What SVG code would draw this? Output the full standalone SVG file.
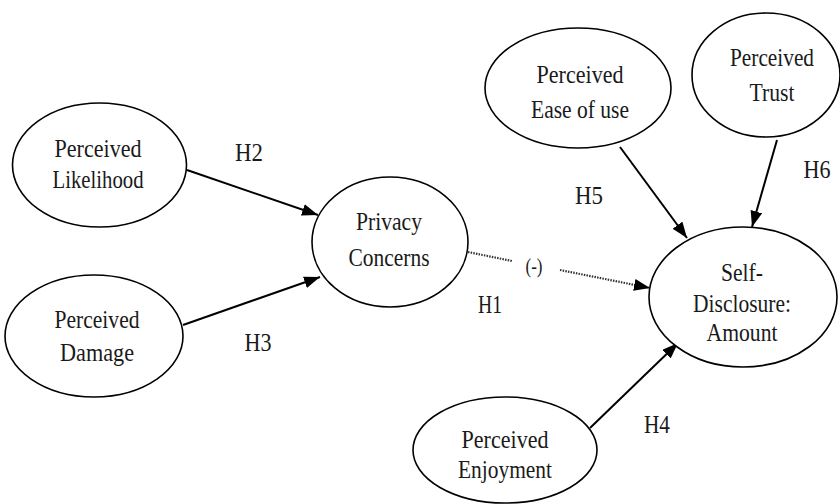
<svg xmlns="http://www.w3.org/2000/svg" width="840" height="504" viewBox="0 0 840 504">
<style>
.node ellipse{fill:#fff;stroke:#000;stroke-width:1.6}
.t{font-family:"Liberation Serif","Times New Roman","DejaVu Serif",serif;font-size:26px;fill:#1a1a1a;text-anchor:middle}
.lbl{font-family:"Liberation Serif","Times New Roman","DejaVu Serif",serif;font-size:25px;fill:#1a1a1a;text-anchor:middle}
.e{stroke:#000;stroke-width:2;fill:none}
.d{stroke:#333;stroke-width:2.2;stroke-dasharray:1.5 1.2;fill:none}
</style>
<defs>
<marker id="ah" markerWidth="16" markerHeight="12" refX="16" refY="6" orient="auto" markerUnits="userSpaceOnUse">
<path d="M0,0 L16,6 L0,12 Z" fill="#000"/>
</marker>
</defs>
<rect width="840" height="504" fill="#fff"/>
<g id="connectors">
<line class="e" x1="187" y1="170" x2="318" y2="215" marker-end="url(#ah)"/>
<line class="e" x1="183" y1="325" x2="320" y2="277" marker-end="url(#ah)"/>
<line class="d" x1="468" y1="252" x2="512" y2="261"/>
<line class="d" x1="560" y1="270" x2="650" y2="288" marker-end="url(#ah)"/>
<line class="e" x1="620" y1="147" x2="687" y2="238" marker-end="url(#ah)"/>
<line class="e" x1="777" y1="140" x2="752" y2="227" marker-end="url(#ah)"/>
<line class="e" x1="590" y1="428" x2="678" y2="343" marker-end="url(#ah)"/>
</g>
<g id="labels">
<text class="lbl" x="249" y="161" textLength="28" lengthAdjust="spacingAndGlyphs">H2</text>
<text class="lbl" x="258" y="351" textLength="27" lengthAdjust="spacingAndGlyphs">H3</text>
<text class="lbl" x="490" y="313" textLength="24" lengthAdjust="spacingAndGlyphs">H1</text>
<text class="lbl" x="534" y="273" style="font-size:21px" textLength="17" lengthAdjust="spacingAndGlyphs">(-)</text>
<text class="lbl" x="589" y="204" textLength="28" lengthAdjust="spacingAndGlyphs">H5</text>
<text class="lbl" x="817" y="178" textLength="27" lengthAdjust="spacingAndGlyphs">H6</text>
<text class="lbl" x="657" y="433" textLength="26" lengthAdjust="spacingAndGlyphs">H4</text>
</g>
<g id="likelihood" class="node">
<ellipse cx="99.5" cy="165" rx="87" ry="62"/>
<text class="t" x="98" y="157" textLength="87" lengthAdjust="spacingAndGlyphs">Perceived</text>
<text class="t" x="98" y="188" textLength="91" lengthAdjust="spacingAndGlyphs">Likelihood</text>
</g>
<g id="damage" class="node">
<ellipse cx="94" cy="336" rx="89" ry="61"/>
<text class="t" x="97" y="328" textLength="85" lengthAdjust="spacingAndGlyphs">Perceived</text>
<text class="t" x="97" y="361" textLength="74" lengthAdjust="spacingAndGlyphs">Damage</text>
</g>
<g id="privacy" class="node">
<ellipse cx="390" cy="242" rx="78" ry="65"/>
<text class="t" x="389" y="230" textLength="66" lengthAdjust="spacingAndGlyphs">Privacy</text>
<text class="t" x="389" y="266" textLength="81" lengthAdjust="spacingAndGlyphs">Concerns</text>
</g>
<g id="ease" class="node">
<ellipse cx="578" cy="88" rx="93" ry="60"/>
<text class="t" x="580" y="83" textLength="87" lengthAdjust="spacingAndGlyphs">Perceived</text>
<text class="t" x="580" y="118" textLength="98" lengthAdjust="spacingAndGlyphs">Ease of use</text>
</g>
<g id="trust" class="node">
<ellipse cx="766" cy="75" rx="74" ry="62"/>
<text class="t" x="772" y="66" textLength="84" lengthAdjust="spacingAndGlyphs">Perceived</text>
<text class="t" x="772" y="101" textLength="45" lengthAdjust="spacingAndGlyphs">Trust</text>
</g>
<g id="selfdisclosure" class="node">
<ellipse cx="743" cy="297" rx="94" ry="70"/>
<text class="t" x="742" y="281" textLength="42" lengthAdjust="spacingAndGlyphs">Self-</text>
<text class="t" x="742" y="312" textLength="98" lengthAdjust="spacingAndGlyphs">Disclosure:</text>
<text class="t" x="742" y="341" textLength="71" lengthAdjust="spacingAndGlyphs">Amount</text>
</g>
<g id="enjoyment" class="node">
<ellipse cx="505" cy="450" rx="92" ry="53"/>
<text class="t" x="505" y="448" textLength="87" lengthAdjust="spacingAndGlyphs">Perceived</text>
<text class="t" x="505" y="478" textLength="94" lengthAdjust="spacingAndGlyphs">Enjoyment</text>
</g>
</svg>
